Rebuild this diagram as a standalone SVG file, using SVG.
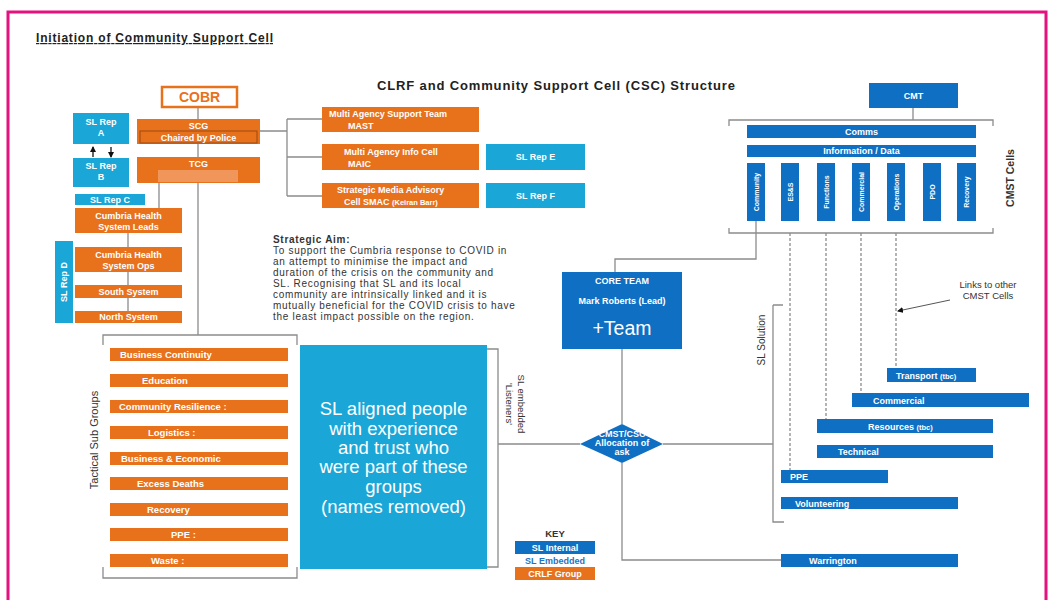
<svg xmlns="http://www.w3.org/2000/svg" width="1054" height="600" viewBox="0 0 1054 600">
  <defs>
    <style>
      .o{fill:#e8711c}
      .b{fill:#0f6fc2}
      .c{fill:#1aa6d6}
      .ln{stroke:#8c8c8c;stroke-width:1.3;fill:none}
      .dash{stroke:#8c8c8c;stroke-width:1.3;fill:none;stroke-dasharray:3 2}
      text{font-family:"Liberation Sans",Arial,sans-serif}
      .w{fill:#fff;font-weight:bold;font-size:9px}
      .m{text-anchor:middle}
      .dk{fill:#333}
      .sg{fill:#fff;font-weight:bold;font-size:9.5px}
      .vc{fill:#fff;font-weight:bold;font-size:7px;text-anchor:middle}
      .aim{letter-spacing:0.7px}
    </style>
    <marker id="ah" markerWidth="6" markerHeight="6" refX="5" refY="3" orient="auto" markerUnits="userSpaceOnUse">
      <path d="M0,0 L6,3 L0,6 z" fill="#111"/>
    </marker>
  </defs>

  <rect width="1054" height="600" fill="#fff"/>
  <!-- page frame -->
  <path d="M8,600 V12 H1046 V600" fill="none" stroke="#e4117f" stroke-width="3"/>

  <text x="36" y="42" font-size="12" font-weight="bold" fill="#222" textLength="237" text-decoration="underline">Initiation of Community Support Cell</text>
  <text x="377" y="90" font-size="13" font-weight="bold" fill="#222" textLength="358">CLRF and Community Support Cell (CSC) Structure</text>

  <!-- connectors -->
  <g id="connectors">
    <path class="ln" d="M198,107 V119 M198,144 V157 M198,183 V335"/>
    <path class="ln" d="M159,183 V208 M128,233 V311"/>
    <path class="ln" d="M260,131 H287 M287,119 V196 M287,119 H322 M287,157 H322 M287,196 H322"/>
    <path class="ln" d="M103,345 V335 H297 V345 M103,567 V578 H297 V567"/>
    <path class="ln" d="M487,349 H498 V567 H487"/>
    <path class="ln" d="M498,444 H580 M663,444 H773 M622,349 V424 M622,463 V560 H781"/>
    <path class="ln" d="M773,305 H783 M773,305 V522 H784"/>
    <path class="ln" d="M913,108 V120 M729,126 V120 H993 V126 M729,228 V233 H993 V228"/>
    <path class="ln" d="M756,221 V259 H615 V272"/>
    <path class="dash" d="M790,233 V470 M826,233 V419 M861,233 V393 M896,233 V368"/>
    <line x1="950" y1="300" x2="898" y2="311" stroke="#555" stroke-width="1" marker-end="url(#ah)"/>
    <line x1="93" y1="157" x2="93" y2="147" stroke="#111" stroke-width="1.3" marker-end="url(#ah)"/>
    <line x1="111" y1="147" x2="111" y2="157" stroke="#111" stroke-width="1.3" marker-end="url(#ah)"/>
  </g>

  <!-- command chain -->
  <g id="cobr">
    <rect x="162" y="87" width="75" height="20" fill="#fff" stroke="#e8711c" stroke-width="2.5"/>
    <text x="199.5" y="102" class="m" font-size="14" font-weight="bold" fill="#e8711c">COBR</text>
  </g>
  <g id="scg">
    <rect x="137" y="119" width="123" height="25" class="o"/>
    <rect x="140" y="131" width="117" height="12" fill="none" stroke="#9a4a10" stroke-width="1"/>
    <text x="198.5" y="129" class="w m">SCG</text>
    <text x="198.5" y="140.5" class="w m">Chaired by Police</text>
  </g>
  <g id="tcg">
    <rect x="137" y="157" width="123" height="26" class="o"/>
    <rect x="158" y="170" width="80" height="12" fill="#f0965a"/>
    <text x="198.5" y="167" class="w m">TCG</text>
  </g>
  <g id="sl-rep-a">
    <rect x="73" y="113" width="56" height="31" class="c"/>
    <text x="101" y="125" class="w m">SL Rep</text>
    <text x="101" y="136" class="w m">A</text>
  </g>
  <g id="sl-rep-b">
    <rect x="73" y="158" width="56" height="29" class="c"/>
    <text x="101" y="169" class="w m">SL Rep</text>
    <text x="101" y="180" class="w m">B</text>
  </g>
  <g id="sl-rep-c">
    <rect x="75" y="194" width="70" height="11" class="c"/>
    <text x="110" y="202.5" class="w m">SL Rep C</text>
  </g>
  <g id="sl-rep-d">
    <rect x="55" y="241" width="18" height="82" class="c"/>
    <text transform="translate(67,282) rotate(-90)" class="w m">SL Rep D</text>
  </g>
  <g id="health-leads">
    <rect x="75" y="208" width="107" height="25" class="o"/>
    <text x="128.5" y="218.5" class="w m">Cumbria Health</text>
    <text x="128.5" y="229.5" class="w m">System Leads</text>
  </g>
  <g id="health-ops">
    <rect x="75" y="247" width="107" height="25" class="o"/>
    <text x="128.5" y="257.5" class="w m">Cumbria Health</text>
    <text x="128.5" y="268.5" class="w m">System Ops</text>
  </g>
  <g id="south-system">
    <rect x="75" y="285" width="107" height="13" class="o"/>
    <text x="128.5" y="294.5" class="w m">South System</text>
  </g>
  <g id="north-system">
    <rect x="75" y="311" width="107" height="12" class="o"/>
    <text x="128.5" y="320" class="w m">North System</text>
  </g>

  <!-- CLRF cells -->
  <g id="mast">
    <rect x="322" y="107" width="157" height="25" class="o"/>
    <text x="329" y="117" class="w">Multi Agency Support Team</text>
    <text x="348" y="128.5" class="w">MAST</text>
  </g>
  <g id="maic">
    <rect x="322" y="144" width="157" height="26" class="o"/>
    <text x="344" y="155" class="w">Multi Agency Info Cell</text>
    <text x="348" y="166.5" class="w">MAIC</text>
  </g>
  <g id="smac">
    <rect x="322" y="183" width="157" height="25" class="o"/>
    <text x="337" y="193" class="w">Strategic Media Advisory</text>
    <text x="344" y="204.5" class="w">Cell SMAC <tspan font-size="7.5">(Keiran Barr)</tspan></text>
  </g>
  <g id="sl-rep-e">
    <rect x="486" y="144" width="99" height="26" class="c"/>
    <text x="535.5" y="160" class="w m">SL Rep E</text>
  </g>
  <g id="sl-rep-f">
    <rect x="486" y="183" width="99" height="25" class="c"/>
    <text x="535.5" y="199" class="w m">SL Rep F</text>
  </g>

  <g id="strategic-aim" font-size="10" fill="#333">
    <text x="273" y="243" font-weight="bold" class="aim">Strategic Aim:</text>
    <text x="273" y="254" class="aim">To support the Cumbria response to COVID in</text>
    <text x="273" y="265" class="aim">an attempt to minimise the impact and</text>
    <text x="273" y="276" class="aim">duration of the crisis on the community and</text>
    <text x="273" y="287" class="aim">SL.  Recognising that SL and its local</text>
    <text x="273" y="298" class="aim">community are intrinsically linked and it is</text>
    <text x="273" y="309" class="aim">mutually beneficial for the COVID crisis to have</text>
    <text x="273" y="320" class="aim">the least impact possible on the region.</text>
  </g>

  <!-- tactical sub groups -->
  <text transform="translate(98,440) rotate(-90)" class="m dk" font-size="11">Tactical Sub Groups</text>
  <g id="tsg-business-continuity"><rect x="110" y="348" width="178" height="13" class="o"/><text x="120" y="358" class="sg">Business Continuity</text></g>
  <g id="tsg-education"><rect x="110" y="374" width="178" height="13" class="o"/><text x="142" y="384" class="sg">Education</text></g>
  <g id="tsg-community-resilience"><rect x="110" y="400" width="178" height="13" class="o"/><text x="119" y="410" class="sg">Community Resilience :</text></g>
  <g id="tsg-logistics"><rect x="110" y="426" width="178" height="13" class="o"/><text x="148" y="436" class="sg">Logistics :</text></g>
  <g id="tsg-business-economic"><rect x="110" y="452" width="178" height="13" class="o"/><text x="121" y="462" class="sg">Business &amp; Economic</text></g>
  <g id="tsg-excess-deaths"><rect x="110" y="477" width="178" height="13" class="o"/><text x="137" y="487" class="sg">Excess Deaths</text></g>
  <g id="tsg-recovery"><rect x="110" y="503" width="178" height="13" class="o"/><text x="147" y="513" class="sg">Recovery</text></g>
  <g id="tsg-ppe"><rect x="110" y="528" width="178" height="13" class="o"/><text x="171" y="538" class="sg">PPE :</text></g>
  <g id="tsg-waste"><rect x="110" y="554" width="178" height="13" class="o"/><text x="151" y="564" class="sg">Waste :</text></g>

  <g id="sl-aligned">
    <rect x="300" y="345" width="187" height="224" class="c"/>
    <g font-size="18.5" fill="#fff" text-anchor="middle">
      <text x="393.5" y="415">SL aligned people</text>
      <text x="393.5" y="435">with experience</text>
      <text x="393.5" y="454">and trust who</text>
      <text x="393.5" y="473">were part of these</text>
      <text x="393.5" y="493">groups</text>
      <text x="393.5" y="513">(names removed)</text>
    </g>
  </g>
  <g id="listeners-label" class="dk" font-size="9.5">
    <text transform="translate(518,404) rotate(90)" class="m">SL embedded</text>
    <text transform="translate(506,404) rotate(90)" class="m">'Listeners'</text>
  </g>

  <!-- core team and allocation -->
  <g id="core-team">
    <rect x="562" y="272" width="120" height="77" class="b"/>
    <text x="622" y="284" class="w m" font-size="8">CORE TEAM</text>
    <text x="622" y="304" class="w m" font-size="8.5">Mark Roberts (Lead)</text>
    <text x="622" y="335" class="m" font-size="19.5" fill="#fff">+Team</text>
  </g>
  <g id="allocation">
    <polygon points="580,444 622,424 663,444 622,463" class="b"/>
    <text x="622" y="437" class="w m" font-size="5.5">CMST/CSC</text>
    <text x="622" y="446" class="w m" font-size="5.5">Allocation of</text>
    <text x="622" y="454.5" class="w m" font-size="5.5">ask</text>
  </g>

  <g id="key">
    <text x="555" y="537" class="m dk" font-size="9.5" font-weight="bold">KEY</text>
    <rect x="515" y="541" width="80" height="13" class="b"/>
    <text x="555" y="551" class="w m">SL Internal</text>
    <text x="555" y="564" class="m" font-size="9" font-weight="bold" fill="#1f73c4">SL Embedded</text>
    <rect x="515" y="567" width="80" height="13" class="o"/>
    <text x="555" y="577" class="w m">CRLF Group</text>
  </g>

  <!-- CMST structure -->
  <g id="cmt">
    <rect x="869" y="83" width="89" height="25" class="b"/>
    <text x="913.5" y="99" class="w m" font-size="8.5">CMT</text>
  </g>
  <g id="comms">
    <rect x="747" y="125" width="229" height="13" class="b"/>
    <text x="861.5" y="134.5" class="w m" font-size="8.5">Comms</text>
  </g>
  <g id="info-data">
    <rect x="747" y="145" width="229" height="12" class="b"/>
    <text x="861.5" y="154" class="w m" font-size="8.5">Information / Data</text>
  </g>
  <g id="cell-community"><rect x="747" y="163" width="18" height="58" class="b"/><text transform="translate(758.5,192) rotate(-90)" class="vc">Community</text></g>
  <g id="cell-ess"><rect x="781" y="163" width="18" height="58" class="b"/><text transform="translate(792.5,192) rotate(-90)" class="vc">ES&amp;S</text></g>
  <g id="cell-functions"><rect x="817" y="163" width="18" height="58" class="b"/><text transform="translate(828.5,192) rotate(-90)" class="vc">Functions</text></g>
  <g id="cell-commercial"><rect x="852" y="163" width="18" height="58" class="b"/><text transform="translate(863.5,192) rotate(-90)" class="vc">Commercial</text></g>
  <g id="cell-operations"><rect x="887" y="163" width="18" height="58" class="b"/><text transform="translate(898.5,192) rotate(-90)" class="vc">Operations</text></g>
  <g id="cell-pdo"><rect x="923" y="163" width="18" height="58" class="b"/><text transform="translate(934.5,192) rotate(-90)" class="vc">PDO</text></g>
  <g id="cell-recovery"><rect x="957" y="163" width="19" height="58" class="b"/><text transform="translate(969,192) rotate(-90)" class="vc">Recovery</text></g>
  <text transform="translate(1014,178) rotate(-90)" class="m dk" font-size="10.5" font-weight="bold">CMST Cells</text>

  <g id="links-label" class="m dk" font-size="9.5">
    <text x="988" y="288">Links to other</text>
    <text x="988" y="299">CMST Cells</text>
  </g>
  <text transform="translate(765,340) rotate(-90)" class="m dk" font-size="10">SL Solution</text>

  <g id="transport"><rect x="887" y="368" width="89" height="14" class="b"/><text x="896" y="378.5" class="w">Transport <tspan font-size="7.5">(tbc)</tspan></text></g>
  <g id="commercial"><rect x="852" y="393" width="177" height="14" class="b"/><text x="873" y="403.5" class="w">Commercial</text></g>
  <g id="resources"><rect x="817" y="419" width="176" height="14" class="b"/><text x="868" y="429.5" class="w">Resources <tspan font-size="7.5">(tbc)</tspan></text></g>
  <g id="technical"><rect x="817" y="445" width="176" height="13" class="b"/><text x="838" y="455" class="w">Technical</text></g>
  <g id="ppe"><rect x="781" y="470" width="107" height="13" class="b"/><text x="790" y="480" class="w">PPE</text></g>
  <g id="volunteering"><rect x="781" y="497" width="177" height="12" class="b"/><text x="795" y="506.5" class="w">Volunteering</text></g>
  <g id="warrington"><rect x="781" y="554" width="177" height="13" class="b"/><text x="809" y="564" class="w">Warrington</text></g>
</svg>
